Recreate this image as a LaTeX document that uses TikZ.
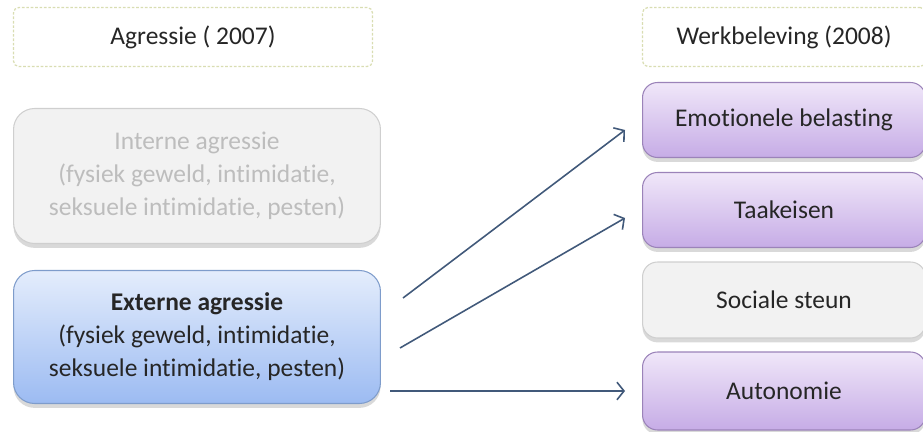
\documentclass[tikz,border=0pt]{standalone}
\usepackage{fontspec}
\setmainfont[Ligatures=NoCommon]{Carlito}
\usetikzlibrary{arrows.meta,shadows}
\definecolor{kopline}{HTML}{D9DDB2}
\definecolor{grijsfill}{HTML}{F2F2F2}
\definecolor{grijsline}{HTML}{CFCFCF}
\definecolor{grijstext}{HTML}{BDBDBD}
\definecolor{blauwtop}{HTML}{E4EDFC}
\definecolor{blauwbot}{HTML}{9CBBF2}
\definecolor{blauwline}{HTML}{7E9CCB}
\definecolor{paarstop}{HTML}{F0E7F9}
\definecolor{paarsbot}{HTML}{C6ACE6}
\definecolor{paarsline}{HTML}{9B83B9}
\definecolor{pijl}{HTML}{41597A}
\begin{document}
\begin{tikzpicture}[x=0.02cm, y=-0.02cm,
        every node/.style={font=\fontsize{14.5}{18.8}\selectfont, text=black!85, align=center},
        kop/.style={draw=kopline, fill=white, rounded corners=3pt, line width=0.7pt,
            dash pattern=on 1.5pt off 1pt, minimum height=1.18cm},
        blok/.style={draw, rounded corners=0.42cm, line width=0.6pt,
            drop shadow={opacity=0.3, shadow xshift=0pt, shadow yshift=-2.5pt}},
        links/.style={blok, minimum width=7.34cm},
        rechts/.style={blok, minimum width=5.66cm, rounded corners=0.3cm},
        grijs/.style={fill=grijsfill, draw=grijsline},
        blauw/.style={top color=blauwtop, bottom color=blauwbot, draw=blauwline},
        paars/.style={top color=paarstop, bottom color=paarsbot, draw=paarsline},
        pijlstijl/.style={draw=pijl, line width=0.9pt, -{Straight Barb[length=4pt,width=10pt]}}]
    \useasboundingbox (0,0) rectangle (923,432);

    % linkerkolom
    \node[kop, minimum width=7.18cm] (agr) at (193,37) {Agressie ( 2007)};
    \node[links, grijs, minimum height=2.7cm, text=grijstext] (intern) at (197,176)
        {Interne agressie\\(fysiek geweld, intimidatie,\\seksuele intimidatie, pesten)};
    \node[links, blauw, minimum height=2.66cm] (extern) at (197,337)
        {\textbf{Externe agressie}\\(fysiek geweld, intimidatie,\\seksuele intimidatie, pesten)};

    % rechterkolom
    \node[kop, minimum width=5.66cm] (werk) at (784,37) {Werkbeleving (2008)};
    \node[rechts, paars, minimum height=1.5cm] (emo) at (784,120) {Emotionele belasting};
    \node[rechts, paars, minimum height=1.5cm] (taak) at (784,210) {Taakeisen};
    \node[rechts, grijs, minimum height=1.52cm] (soc) at (784,300) {Sociale steun};
    \node[rechts, paars, minimum height=1.56cm] (auto) at (784,391) {Autonomie};

    % pijlen
    \coordinate (s1) at (403,298);
    \coordinate (s2) at (400,348);
    \coordinate (s3) at (390,391);
    \draw[pijlstijl] (s1) -- ([shift={(-17,10)}]emo.west);
    \draw[pijlstijl] (s2) -- ([shift={(-17,8)}]taak.west);
    \draw[pijlstijl] (s3) -- ([shift={(-17,0)}]auto.west);
\end{tikzpicture}
\end{document}
